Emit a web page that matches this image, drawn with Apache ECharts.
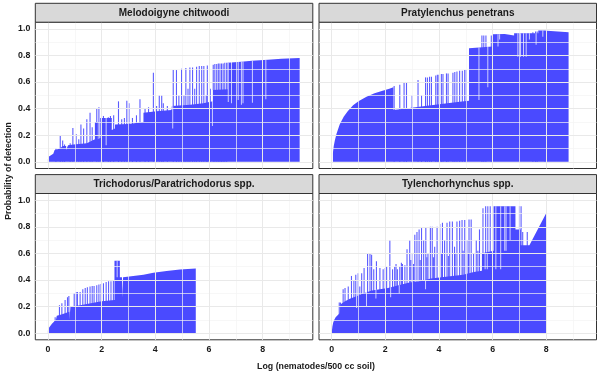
<!DOCTYPE html>
<html><head><meta charset="utf-8">
<script src="https://cdn.jsdelivr.net/npm/echarts@6/dist/echarts.min.js"></script>
<style>html,body{margin:0;padding:0;background:#fff}#c{width:600px;height:373px}</style>
</head><body><div id="c"></div>
<script>
// ---------- data ----------
const panelTitles = ["Melodoigyne chitwoodi", "Pratylenchus penetrans", "Trichodorus/Paratrichodorus spp.", "Tylenchorhynchus spp."];
const xTitle = "Log (nematodes/500 cc soil)";
const yTitle = "Probability of detection";
const xTicks = [0, 2, 4, 6, 8];
const xMinor = [1, 3, 5, 7, 9];
const yTicks = [0, 0.2, 0.4, 0.6, 0.8, 1.0];
const yMinor = [0.1, 0.3, 0.5, 0.7, 0.9];

// solid body outline [log count, probability]
const body1 = [[0,0],[0,0.02],[0.04,0.04],[0.09,0.05],[0.2,0.06],[0.25,0.06],[0.25,0.09],[0.45,0.1],[0.55,0.12],[0.68,0.12],[0.68,0.09],[0.75,0.09],[0.75,0.125],[0.95,0.13],[1.45,0.14],[1.6,0.155],[1.75,0.17],[1.75,0.3],[1.86,0.3],[1.86,0.17],[1.95,0.18],[1.95,0.33],[2.38,0.33],[2.38,0.24],[2.5,0.25],[2.5,0.28],[3.0,0.285],[3.56,0.3],[3.56,0.37],[4.05,0.38],[4.6,0.39],[4.62,0.42],[5.3,0.43],[5.79,0.44],[5.8,0.455],[6.15,0.455],[6.15,0.54],[6.69,0.545],[6.69,0.745],[7.2,0.752],[7.6,0.76],[8.2,0.768],[8.7,0.775],[9.38,0.78],[9.38,0]];
const spikes1 = [[0.3,0.1],[0.46,0.2],[0.55,0.16],[0.62,0.13],[0.83,0.14],[0.93,0.255],[1.05,0.21],[1.15,0.17],[1.23,0.28],[1.33,0.25],[1.45,0.32],[1.57,0.37],[1.65,0.26],[1.82,0.405],[1.9,0.41],[2.07,0.345],[2.25,0.335],[2.33,0.345],[2.45,0.35],[2.63,0.455],[2.75,0.32],[2.85,0.33],[2.94,0.46],[3.02,0.44],[3.15,0.33],[3.3,0.35],[3.43,0.47],[3.62,0.4],[3.75,0.41],[3.93,0.67],[4.05,0.42],[4.15,0.5],[4.24,0.5],[4.3,0.44],[4.45,0.42],[4.67,0.69],[4.79,0.69],[4.88,0.5],[4.98,0.7],[5.07,0.5],[5.14,0.705],[5.22,0.55],[5.29,0.71],[5.39,0.71],[5.47,0.55],[5.54,0.715],[5.64,0.72],[5.73,0.72],[5.81,0.72],[5.9,0.5],[5.94,0.725],[6.05,0.55],[6.16,0.73],[6.22,0.735],[6.29,0.735],[6.35,0.74],[6.41,0.74],[6.47,0.74],[6.53,0.74],[6.59,0.745],[6.66,0.745]];
const gaps1 = [[2.17,0.125,0.33],[4.65,0.25,0.42],[6.13,0.27,0.54],[6.72,0.45,0.745],[6.84,0.44,0.75],[7.09,0.465,0.752],[7.21,0.43,0.753],[7.27,0.44,0.754],[7.62,0.445,0.76],[8.12,0.47,0.765]];

const body2 = [[0.05,0],[0.05,0.07],[0.08,0.12],[0.12,0.16],[0.18,0.21],[0.3,0.28],[0.45,0.34],[0.6,0.38],[0.8,0.425],[1.0,0.455],[1.3,0.49],[1.6,0.515],[1.9,0.535],[2.15,0.55],[2.3,0.56],[2.3,0.39],[2.54,0.395],[3.78,0.427],[4.77,0.452],[5.12,0.46],[5.12,0.855],[6.0,0.867],[6.0,0.96],[6.45,0.962],[6.45,0.95],[6.8,0.95],[6.8,0.967],[7.7,0.967],[7.7,0.987],[7.9,0.987],[7.9,0.975],[8.83,0.975],[8.83,0]];
const spikes2 = [[2.33,0.57],[2.54,0.58],[2.7,0.595],[2.79,0.6],[3.0,0.5],[3.22,0.615],[3.35,0.5],[3.5,0.635],[3.57,0.635],[3.65,0.64],[3.72,0.64],[3.88,0.65],[3.94,0.655],[4.0,0.655],[4.09,0.66],[4.15,0.66],[4.28,0.665],[4.34,0.665],[4.52,0.67],[4.59,0.675],[4.67,0.68],[4.77,0.685],[4.87,0.685],[4.96,0.69],[5.02,0.69],[5.6,0.95],[5.67,0.95],[5.75,0.95],[5.95,0.95],[7.5,0.975],[7.6,0.98],[7.66,0.98],[7.95,0.985]];
const gaps2 = [[5.49,0.465,0.86],[5.82,0.56,0.865],[6.2,0.867,0.96],[6.26,0.92,0.96],[6.94,0.79,0.967],[7.04,0.79,0.967],[7.15,0.79,0.967],[7.25,0.79,0.967],[7.37,0.92,0.967],[7.62,0.88,0.967],[7.87,0.94,0.987]];

const body3 = [[0,0],[0,0.02],[0.04,0.04],[0.08,0.055],[0.15,0.07],[0.22,0.085],[0.3,0.1],[0.33,0.13],[0.5,0.14],[0.8,0.16],[0.8,0.1],[0.84,0.1],[0.84,0.2],[1.2,0.21],[1.6,0.225],[2.0,0.24],[2.48,0.25],[2.48,0.545],[2.68,0.545],[2.68,0.42],[2.76,0.42],[2.76,0.265],[2.8,0.265],[2.8,0.42],[3.18,0.43],[3.56,0.44],[3.93,0.455],[4.42,0.468],[4.92,0.478],[5.51,0.487],[5.51,0]];
const spikes3 = [[0.27,0.12],[0.43,0.21],[0.52,0.225],[0.64,0.25],[0.73,0.27],[0.78,0.28],[0.98,0.3],[1.05,0.31],[1.1,0.31],[1.2,0.31],[1.3,0.33],[1.39,0.34],[1.47,0.345],[1.57,0.35],[1.65,0.355],[1.72,0.355],[1.82,0.36],[1.9,0.365],[1.98,0.37],[2.07,0.375],[2.17,0.385],[2.26,0.39],[2.35,0.39],[2.44,0.395]];
const gaps3 = [[2.58,0.42,0.545]];

const body4 = [[0,0],[0,0.01],[0.03,0.05],[0.06,0.08],[0.1,0.1],[0.15,0.12],[0.22,0.13],[0.3,0.15],[0.35,0.22],[0.5,0.24],[0.7,0.26],[0.95,0.28],[1.2,0.3],[1.5,0.32],[1.8,0.33],[2.1,0.34],[2.5,0.36],[2.9,0.38],[3.3,0.39],[3.7,0.41],[4.1,0.42],[4.5,0.43],[4.9,0.44],[5.3,0.46],[5.6,0.47],[5.6,0.6],[6.05,0.62],[6.05,0.955],[6.85,0.955],[6.85,0.78],[7.05,0.78],[7.05,0.66],[7.37,0.66],[7.99,0.9],[7.99,0]];
const spikes4 = [[0.285,0.23],[0.33,0.23],[0.43,0.33],[0.5,0.34],[0.62,0.35],[0.74,0.43],[0.83,0.4],[0.9,0.44],[0.99,0.45],[1.05,0.35],[1.12,0.45],[1.21,0.49],[1.34,0.6],[1.43,0.6],[1.49,0.59],[1.57,0.48],[1.67,0.54],[1.8,0.49],[1.92,0.48],[2.0,0.49],[2.05,0.5],[2.17,0.7],[2.27,0.48],[2.35,0.5],[2.4,0.52],[2.45,0.48],[2.54,0.5],[2.6,0.53],[2.64,0.52],[2.73,0.51],[2.81,0.63],[2.91,0.7],[2.95,0.55],[3.01,0.6],[3.05,0.52],[3.1,0.74],[3.18,0.76],[3.26,0.78],[3.3,0.55],[3.35,0.79],[3.43,0.7],[3.51,0.79],[3.55,0.57],[3.59,0.6],[3.68,0.8],[3.75,0.8],[3.8,0.57],[3.84,0.65],[3.93,0.8],[4.03,0.82],[4.1,0.6],[4.13,0.83],[4.21,0.7],[4.3,0.83],[4.35,0.58],[4.4,0.84],[4.5,0.84],[4.58,0.65],[4.6,0.6],[4.67,0.84],[4.77,0.845],[4.86,0.85],[4.9,0.62],[4.96,0.85],[5.04,0.7],[5.1,0.6],[5.12,0.855],[5.2,0.855],[5.29,0.6],[5.39,0.7],[5.45,0.62],[5.51,0.78],[5.64,0.94],[5.74,0.955],[5.82,0.955],[5.91,0.955],[6.01,0.955],[7.0,0.955],[7.06,0.955],[7.12,0.76],[7.29,0.76]];
const gaps4 = [[0.93,0.19,0.28],[1.3,0.2,0.31],[1.65,0.26,0.33],[2.2,0.27,0.345],[2.52,0.3,0.36],[3.5,0.33,0.4],[5.72,0.48,0.6],[5.8,0.48,0.6],[6.12,0.48,0.955],[6.3,0.48,0.955],[6.45,0.62,0.955],[6.5,0.62,0.955],[6.65,0.7,0.955]];

const bodies = [body1, body2, body3, body4];
const spikes = [spikes1, spikes2, spikes3, spikes4];
const gaps = [gaps1, gaps2, gaps3, gaps4];

// ---------- layout ----------
const FONT = '"Liberation Sans", Arial, sans-serif';
const TXT = '#1a1a1a';
const FILL = '#4a4aff';
const W = 277.5, H = 146.3, STRIP = 18.9;
const lefts = [35.3, 319, 35.3, 319];
const tops = [22.2, 22.2, 193.5, 193.5];

const grids = [], xAxes = [], yAxes = [], series = [], graphics = [];
const major = {color: '#e9e9e9', width: 1, type: 'solid'};
const minor = {color: '#f4f4f4', width: 0.7, type: 'solid'};

for (let i = 0; i < 4; i++) {
  grids.push({left: lefts[i], top: tops[i], width: W, height: H, show: true,
    borderColor: '#333', borderWidth: 1, backgroundColor: 'transparent', containLabel: false});
  const showX = i >= 2, showY = i % 2 === 0;
  xAxes.push({type: 'value', gridIndex: i, min: -0.47, max: 9.87,
    splitLine: {show: false}, axisLine: {show: false},
    axisTick: {show: showX, customValues: xTicks, length: 3.7, lineStyle: {color: '#333', width: 1}},
    axisLabel: {show: showX, customValues: xTicks, formatter: v => String(v), margin: 5,
      fontSize: 8.8, fontWeight: 'bold', color: TXT, fontFamily: FONT}});
  yAxes.push({type: 'value', gridIndex: i, min: -0.05, max: 1.05,
    splitLine: {show: false}, axisLine: {show: false},
    axisTick: {show: showY, customValues: yTicks, length: 3.7, lineStyle: {color: '#333', width: 1}},
    axisLabel: {show: showY, customValues: yTicks, formatter: v => v.toFixed(1), margin: 5,
      fontSize: 8.8, fontWeight: 'bold', color: TXT, fontFamily: FONT}});

  const ml = [];
  xMinor.forEach(v => ml.push({xAxis: v, lineStyle: minor}));
  yMinor.forEach(v => ml.push({yAxis: v, lineStyle: minor}));
  xTicks.forEach(v => ml.push({xAxis: v, lineStyle: major}));
  yTicks.forEach(v => ml.push({yAxis: v, lineStyle: major}));
  series.push({type: 'line', xAxisIndex: i, yAxisIndex: i, data: [[-1, -1]], symbol: 'none',
    lineStyle: {width: 0, opacity: 0}, z: 1,
    markLine: {silent: true, symbol: ['none', 'none'], animation: false, label: {show: false}, data: ml}});

  series.push({type: 'bar', xAxisIndex: i, yAxisIndex: i, data: spikes[i], barWidth: 1.1,
    itemStyle: {color: FILL, opacity: 0.9}, z: 2, silent: true});

  series.push({type: 'line', xAxisIndex: i, yAxisIndex: i, data: bodies[i], symbol: 'none',
    lineStyle: {width: 0, opacity: 0}, areaStyle: {color: FILL, opacity: 1}, z: 3, silent: true});

  series.push({type: 'custom', xAxisIndex: i, yAxisIndex: i, data: gaps[i], z: 4, silent: true,
    renderItem: (params, api) => {
      const p0 = api.coord([api.value(0), api.value(1)]);
      const p1 = api.coord([api.value(0), api.value(2)]);
      return {type: 'rect', shape: {x: p0[0] - 0.5, y: p1[1], width: 1, height: p0[1] - p1[1]},
        style: {fill: 'rgba(255,255,255,0.72)'}};
    }});

  graphics.push({type: 'rect', z: 10, shape: {x: lefts[i], y: tops[i] - STRIP, width: W, height: STRIP},
    style: {fill: '#d9d9d9', stroke: '#333', lineWidth: 1}});
  graphics.push({type: 'text', z: 11, x: lefts[i] + W / 2, y: tops[i] - STRIP / 2 + 0.5,
    style: {text: panelTitles[i], align: 'center', verticalAlign: 'middle',
      font: 'bold 10px ' + FONT, fill: TXT}});
}
graphics.push({type: 'text', z: 11, x: 316, y: 366.5,
  style: {text: xTitle, align: 'center', verticalAlign: 'middle', font: 'bold 8.8px ' + FONT, fill: TXT}});
graphics.push({type: 'text', z: 11, x: 9, y: 171, rotation: Math.PI / 2,
  style: {text: yTitle, align: 'center', verticalAlign: 'middle', font: 'bold 8.8px ' + FONT, fill: TXT}});

const chart = echarts.init(document.getElementById('c'), null, {renderer: 'canvas'});
chart.setOption({animation: false, backgroundColor: '#fff', grid: grids, xAxis: xAxes, yAxis: yAxes,
  series: series, graphic: graphics});
</script></body></html>
